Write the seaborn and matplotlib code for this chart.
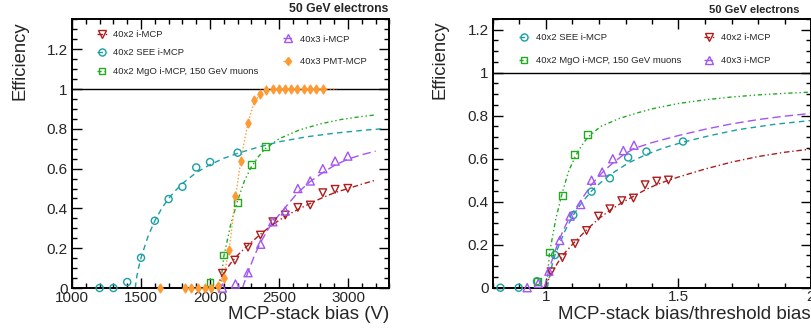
import matplotlib
matplotlib.use("Agg")
import matplotlib.pyplot as plt
from matplotlib.lines import Line2D
from matplotlib.legend import Legend
from matplotlib.ticker import MultipleLocator, FuncFormatter
import seaborn as sns

# ---------------- data: left panel (MCP-stack bias, V) ----------------
red_v = [2090, 2180, 2275, 2365, 2455, 2545, 2636, 2726, 2817, 2906, 2998]
red_eff = [0.074, 0.14, 0.205, 0.266, 0.333, 0.367, 0.405, 0.417, 0.479, 0.496, 0.501]
purple_v = [2090, 2184, 2275, 2367, 2455, 2545, 2636, 2726, 2817, 2906, 2998]
purple_eff = [0.0, 0.02, 0.077, 0.22, 0.333, 0.387, 0.50, 0.538, 0.60, 0.638, 0.663]
cyan_v = [1200, 1300, 1400, 1500, 1600, 1700, 1800, 1900, 2000, 2200]
cyan_eff = [0.0, 0.0, 0.03, 0.152, 0.338, 0.447, 0.509, 0.606, 0.633, 0.68]
green_v = [2000, 2100, 2200, 2300, 2400]
green_eff = [0.027, 0.166, 0.43, 0.62, 0.713]
orange_v = [1635, 1820, 1865, 1913, 1960, 2008, 2055, 2098, 2138, 2183, 2227, 2275,
            2318, 2362, 2408, 2455, 2500, 2545, 2590, 2633, 2678, 2725, 2770, 2817]
orange_eff = [0, 0, 0, 0, 0, 0, 0.01, 0.05, 0.19, 0.46, 0.64, 0.83,
              0.945, 0.975, 0.995, 1, 1, 1, 1, 1, 1, 1, 1, 1]

# fitted curves, left panel
cyan_fit_v = [1458, 1470, 1485, 1500, 1550, 1600, 1650, 1700, 1750, 1800, 1900, 2000,
              2100, 2200, 2350, 2500, 2700, 2900, 3100, 3240]
cyan_fit_eff = [0, 0.06, 0.11, 0.152, 0.258, 0.338, 0.40, 0.45, 0.49, 0.525, 0.58, 0.62,
                0.652, 0.677, 0.708, 0.735, 0.76, 0.778, 0.792, 0.80]
green_fit_v = [2072, 2080, 2090, 2100, 2150, 2200, 2250, 2300, 2350, 2400, 2500, 2650,
               2800, 2950, 3100, 3200]
green_fit_eff = [0, 0.04, 0.10, 0.16, 0.32, 0.44, 0.54, 0.61, 0.66, 0.70, 0.75, 0.795,
                 0.825, 0.847, 0.862, 0.87]
red_fit_v = [2040, 2060, 2090, 2150, 2200, 2275, 2365, 2455, 2545, 2636, 2726, 2817,
             2906, 3000, 3100, 3200]
red_fit_eff = [0, 0.025, 0.065, 0.125, 0.165, 0.215, 0.27, 0.32, 0.36, 0.395, 0.425, 0.455,
               0.48, 0.50, 0.522, 0.542]
purple_fit_v = [2235, 2250, 2275, 2320, 2367, 2420, 2455, 2545, 2636, 2726, 2817, 2906,
                3000, 3100, 3200]
purple_fit_eff = [0, 0.03, 0.08, 0.16, 0.23, 0.295, 0.33, 0.405, 0.48, 0.535, 0.58, 0.618,
                  0.648, 0.67, 0.688]
orange_fit_v = [2030, 2070, 2100, 2140, 2183, 2227, 2275, 2318, 2362, 2408, 2460, 2920]
orange_fit_eff = [0, 0.01, 0.06, 0.2, 0.45, 0.66, 0.83, 0.93, 0.975, 0.995, 1.0, 1.0]

# ---------------- data: right panel (bias / threshold bias) ----------------
cyan_r = [0.828, 0.897, 0.966, 1.034, 1.103, 1.172, 1.241, 1.31, 1.379, 1.517]
green_r = [0.967, 1.012, 1.061, 1.108, 1.158]
purple_r = [0.929, 0.971, 1.011, 1.052, 1.091, 1.131, 1.172, 1.212, 1.252, 1.292, 1.332]
red_r = [1.019, 1.062, 1.11, 1.153, 1.198, 1.241, 1.286, 1.33, 1.374, 1.418, 1.462]

cyan_fit_r = [1.005, 1.014, 1.024, 1.034, 1.069, 1.103, 1.138, 1.172, 1.207, 1.241, 1.31,
              1.379, 1.448, 1.517, 1.62, 1.724, 1.862, 2.0]
cyan_fit_r_eff = [0, 0.06, 0.11, 0.152, 0.258, 0.338, 0.40, 0.45, 0.49, 0.525, 0.58,
                  0.62, 0.652, 0.677, 0.708, 0.735, 0.76, 0.778]
green_fit_r = [1.0, 1.004, 1.009, 1.013, 1.037, 1.061, 1.085, 1.11, 1.134, 1.158, 1.206,
               1.278, 1.35, 1.4, 1.5, 1.6, 1.7, 1.8, 1.9, 2.0]
green_fit_r_eff = [0, 0.04, 0.10, 0.16, 0.32, 0.44, 0.54, 0.61, 0.66, 0.70, 0.75,
                   0.788, 0.815, 0.832, 0.857, 0.874, 0.887, 0.897, 0.904, 0.91]
purple_fit_r = [0.993, 1.0, 1.011, 1.031, 1.052, 1.076, 1.091, 1.131, 1.172, 1.212, 1.252,
                1.292, 1.333, 1.4, 1.5, 1.6, 1.7, 1.8, 1.9, 2.0]
purple_fit_r_eff = [0, 0.03, 0.08, 0.16, 0.23, 0.295, 0.33, 0.405, 0.48, 0.535, 0.58,
                    0.618, 0.648, 0.675, 0.708, 0.737, 0.762, 0.782, 0.798, 0.811]
red_fit_r = [0.995, 1.005, 1.019, 1.049, 1.073, 1.11, 1.154, 1.198, 1.241, 1.286, 1.33,
             1.374, 1.418, 1.463, 1.5, 1.6, 1.7, 1.8, 1.9, 2.0]
red_fit_r_eff = [0, 0.025, 0.065, 0.125, 0.165, 0.215, 0.27, 0.32, 0.36, 0.395, 0.425,
                 0.455, 0.48, 0.50, 0.515, 0.552, 0.584, 0.61, 0.63, 0.645]

lab_red = "40x2 i-MCP"
lab_cyan = "40x2 SEE i-MCP"
lab_green = "40x2 MgO i-MCP, 150 GeV muons"
lab_purple = "40x3 i-MCP"
lab_orange = "40x3 PMT-MCP"
title = "50 GeV electrons"

# ---------------- style ----------------
sns.set_theme(style="ticks")
plt.rcParams["font.family"] = ["Liberation Sans", "DejaVu Sans"]

C_RED = "#b01c1c"
C_CYAN = "#1a9fa3"
C_GREEN = "#22aa22"
C_PURPLE = "#a355f5"
C_ORANGE = "#ff9a33"
LS_RED = (0, (4, 2, 1, 2))
LS_CYAN = (0, (4, 3))
LS_GREEN = (0, (3, 2, 1, 2, 1, 2))
LS_PURPLE = (0, (6, 3))
LS_ORANGE = (0, (1, 1.5))

STY = {
    "red": (C_RED, LS_RED, "v", 30, False),
    "cyan": (C_CYAN, LS_CYAN, "o", 26, False),
    "green": (C_GREEN, LS_GREEN, "s", 24, False),
    "purple": (C_PURPLE, LS_PURPLE, "^", 34, False),
    "orange": (C_ORANGE, LS_ORANGE, "d", 20, True),
}

fig = plt.figure(figsize=(8.12, 3.32), dpi=100)
axL = fig.add_axes([72 / 812, 1 - 288 / 332, 317.5 / 812, 269 / 332])
axR = fig.add_axes([493 / 812, 1 - 287.7 / 332, 318 / 812, 268.7 / 332])


def draw(ax, key, cx, cy, px, py):
    color, ls, marker, size, filled = STY[key]
    sns.lineplot(x=cx, y=cy, ax=ax, color=color, linestyle=ls, lw=1.0,
                 sort=False, estimator=None, zorder=2)
    sns.scatterplot(x=px, y=py, ax=ax, marker=marker, s=size, color=color,
                    linewidth=1.0, clip_on=False, zorder=3)
    coll = ax.collections[-1]
    if not filled:
        coll.set_facecolor("none")
    coll.set_edgecolor(color)


def handle(key):
    color, ls, marker, size, filled = STY[key]
    return Line2D([], [], color=color, linestyle=ls, lw=1.0, marker=marker,
                  markersize=size ** 0.5, markerfacecolor=color if filled else "none",
                  markeredgecolor=color, markeredgewidth=1.0)


def add_legend(ax, keys, labels, x, y, spacing):
    leg = Legend(ax, [handle(k) for k in keys], labels, loc="upper left",
                 bbox_to_anchor=(x, y), frameon=False, fontsize=6.8,
                 handlelength=1.1, handletextpad=0.65, borderpad=0,
                 borderaxespad=0, labelspacing=spacing)
    ax.add_artist(leg)


def style_axes(ax, xmaj, xmin):
    ax.axhline(1.0, color="black", lw=1.0, zorder=1)
    ax.xaxis.set_major_locator(MultipleLocator(xmaj))
    ax.xaxis.set_minor_locator(MultipleLocator(xmin))
    ax.yaxis.set_major_locator(MultipleLocator(0.2))
    ax.yaxis.set_minor_locator(MultipleLocator(0.05))
    fmt = FuncFormatter(lambda v, p: f"{v:g}")
    ax.xaxis.set_major_formatter(fmt)
    ax.yaxis.set_major_formatter(fmt)
    ax.tick_params(which="both", direction="in", top=True, right=True,
                   labelsize=11, color="black", width=1.0)
    ax.tick_params(which="major", length=7)
    ax.tick_params(which="minor", length=3.6)
    ax.tick_params(axis="x", which="major", pad=2)
    ax.tick_params(axis="y", which="major", pad=3)
    for s in ax.spines.values():
        s.set_linewidth(1.4)
        s.set_color("black")
    ax.set_facecolor("white")


# ---- left panel ----
draw(axL, "cyan", cyan_fit_v, cyan_fit_eff, cyan_v, cyan_eff)
draw(axL, "green", green_fit_v, green_fit_eff, green_v, green_eff)
draw(axL, "red", red_fit_v, red_fit_eff, red_v, red_eff)
draw(axL, "purple", purple_fit_v, purple_fit_eff, purple_v, purple_eff)
draw(axL, "orange", orange_fit_v, orange_fit_eff, orange_v, orange_eff)
axL.set_xlim(1000, 3300)
axL.set_ylim(0, 1.352)
style_axes(axL, 500, 100)
axL.set_xlabel("MCP-stack bias (V)", fontsize=13.5, loc="right", labelpad=1)
axL.set_ylabel("")
add_legend(axL, ["red", "cyan", "green"], [lab_red, lab_cyan, lab_green], 0.078, 0.959, 1.0)
add_legend(axL, ["purple", "orange"], [lab_purple, lab_orange], 0.6646, 0.942, 1.47)

# ---- right panel ----
draw(axR, "cyan", cyan_fit_r, cyan_fit_r_eff, cyan_r, cyan_eff)
draw(axR, "green", green_fit_r, green_fit_r_eff, green_r, green_eff)
draw(axR, "red", red_fit_r, red_fit_r_eff, red_r, red_eff)
draw(axR, "purple", purple_fit_r, purple_fit_r_eff, purple_r, purple_eff)
axR.set_xlim(0.8, 2.0)
axR.set_ylim(0, 1.25)
style_axes(axR, 0.5, 0.1)
axR.set_xlabel("MCP-stack bias/threshold bias", fontsize=13.5, loc="right", labelpad=1)
axR.set_ylabel("")
add_legend(axR, ["cyan", "green"], [lab_cyan, lab_green], 0.0818, 0.9485, 1.5)
add_legend(axR, ["red", "purple"], [lab_red, lab_purple], 0.6635, 0.9485, 1.5)

# y-axis titles (ROOT style, top aligned)
fig.text(20 / 812, 1 - 21.7 / 332, "Efficiency", rotation=90, ha="center", va="top",
         fontsize=13.3)
fig.text(440.5 / 812, 1 - 20.7 / 332, "Efficiency", rotation=90, ha="center", va="top",
         fontsize=13.3)

fig.text(388 / 812, 1 - 8.7 / 332, title, ha="right", va="center",
         fontsize=8.8, fontweight="bold")
fig.text(800 / 812, 1 - 9.7 / 332, title, ha="right", va="center",
         fontsize=8.0, fontweight="bold")

fig.savefig("out.png", dpi=100, facecolor="white")
